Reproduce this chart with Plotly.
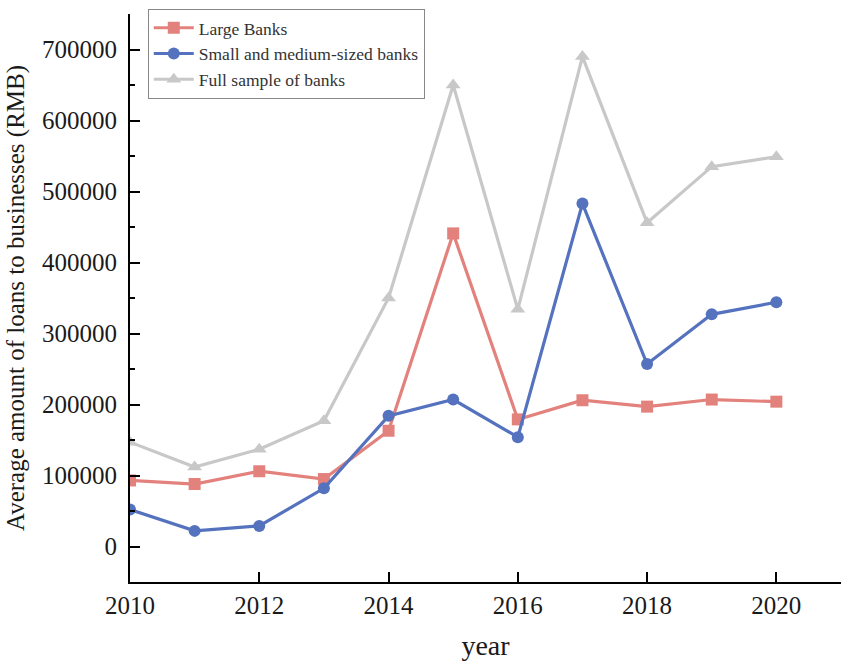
import plotly.graph_objects as go

years = [2010, 2011, 2012, 2013, 2014, 2015, 2016, 2017, 2018, 2019, 2020]
large_banks = [93000, 88000, 106000, 95000, 163000, 441000, 179000, 206000, 197000, 207000, 204000]
small_medium_banks = [52000, 22000, 29000, 82000, 184000, 207000, 154000, 483000, 257000, 327000, 344000]
full_sample = [147000, 112000, 137000, 177000, 350000, 650000, 334000, 690000, 456000, 535000, 549000]

names = ["Large Banks", "Small and medium-sized banks", "Full sample of banks"]
colors = ["#E3827D", "#5572BE", "#C8C8C8"]
symbols = ["square", "circle", "triangle-up"]

fig = go.Figure()
for name, vals, c, s in zip(names, [large_banks, small_medium_banks, full_sample], colors, symbols):
    fig.add_trace(go.Scatter(
        x=years, y=vals, name=name, mode="lines+markers",
        line=dict(color=c, width=3.2),
        marker=dict(symbol=s, size=12 if s != "triangle-up" else 13, color=c),
    ))

font_family = "Liberation Serif, Times New Roman, serif"
txt = "#1a1a1a"
fig.update_layout(
    width=850, height=669,
    margin=dict(l=130, r=9, t=10, b=87),
    paper_bgcolor="white", plot_bgcolor="white",
    font=dict(family=font_family, color=txt),
    showlegend=True,
    legend=dict(
        x=0.025, y=1.009, xanchor="left", yanchor="top",
        bgcolor="white", bordercolor="#888888", borderwidth=1,
        font=dict(size=17.5, family=font_family, color="#333333"),
        tracegroupgap=0, itemwidth=40,
    ),
)
fig.update_xaxes(
    range=[2010, 2021], tickvals=[2010, 2012, 2014, 2016, 2018, 2020],
    showline=True, linecolor="black", linewidth=2,
    ticks="inside", ticklen=10, tickwidth=2, tickcolor="black",
    showgrid=False, zeroline=False, automargin=False,
    tickfont=dict(size=25, family=font_family, color=txt),
    title=dict(text="year", font=dict(size=28, family=font_family, color=txt), standoff=17),
)
fig.update_yaxes(
    range=[-50000, 750000], tickvals=[0, 100000, 200000, 300000, 400000, 500000, 600000, 700000],
    ticktext=["0", "100000", "200000", "300000", "400000", "500000", "600000", "700000"],
    showline=True, linecolor="black", linewidth=2,
    ticks="inside", ticklen=10, tickwidth=2, tickcolor="black",
    minor=dict(ticks="inside", ticklen=5, tickwidth=2, tickcolor="black", dtick=50000, tick0=0),
    showgrid=False, zeroline=False, automargin=False,
    tickfont=dict(size=25, family=font_family, color=txt),
    ticklabelstandoff=6,
    title=dict(text="Average amount of loans to businesses (RMB)", font=dict(size=25, family=font_family, color=txt), standoff=10),
)

fig.write_html(
    "out.html",
    config={"displayModeBar": False},
    post_script="document.body.style.margin='0';document.body.style.overflow='hidden';",
)
